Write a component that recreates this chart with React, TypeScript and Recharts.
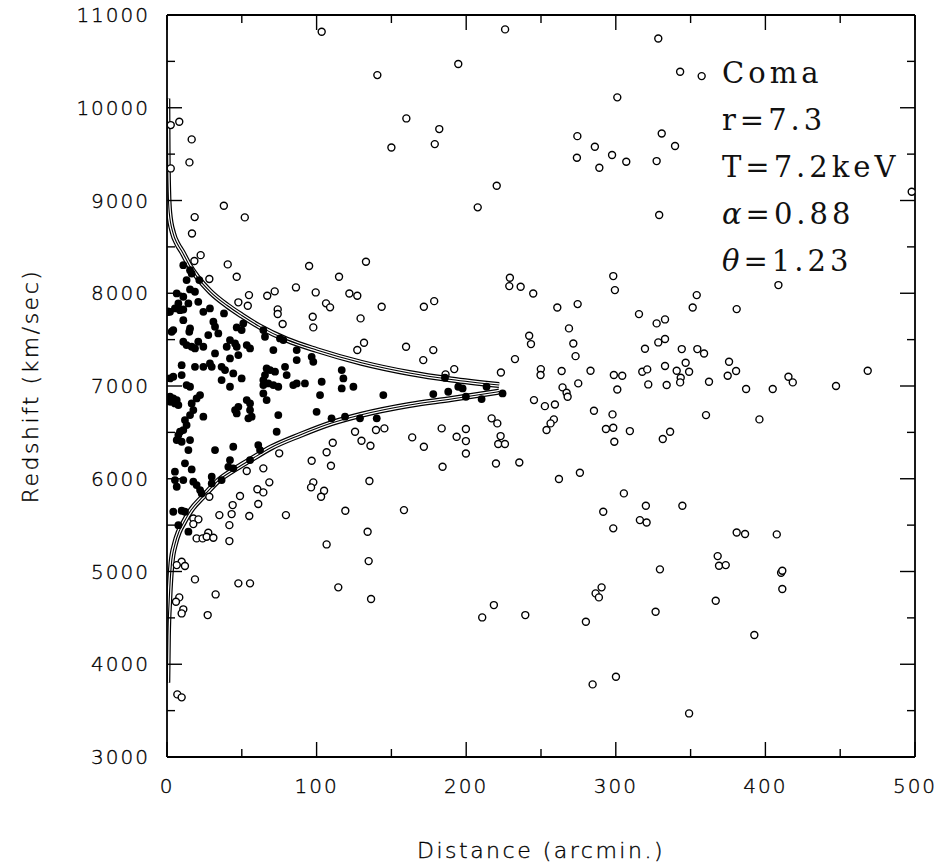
import { ComposedChart, Scatter, Line, XAxis, YAxis, Label } from 'recharts'

// distance (arcmin), redshift (km/s) pairs
const MEMBERS: [number, number][] = [
  [10.9, 8303], [15.4, 8249], [16.5, 8213], [13.1, 8142], [21.6, 8142], [6.5, 7998], [15.4, 8041],
  [18.7, 8016], [10.9, 7962], [20.9, 7908], [14.3, 7890], [7.6, 7890], [5.3, 7836], [2, 7800],
  [8.7, 7818], [10.9, 7825], [24.3, 7800], [28.7, 7836], [38.1, 7782], [10.9, 7710], [15.4, 7621],
  [14.9, 7585], [31, 7693], [32.1, 7639], [34.3, 7567], [27.6, 7549], [4.2, 7603], [3.1, 7585],
  [46.6, 7631], [51, 7675], [49.9, 7603], [42.1, 7495], [45.5, 7459], [46.6, 7423], [53.3, 7441],
  [55.5, 7405], [39.9, 7423], [10.9, 7477], [13.1, 7441], [16.5, 7423], [20.9, 7477], [24.3, 7423],
  [18.7, 7405], [64.4, 7603], [65.5, 7531], [75.5, 7513], [77.8, 7495], [71.1, 7387], [32.1, 7351],
  [42.1, 7297], [47.7, 7333], [86.7, 7387], [86.7, 7279], [96.7, 7315], [97.8, 7261], [9.8, 7225],
  [18.7, 7207], [24.3, 7207], [28.7, 7243], [29.9, 7207], [36.5, 7207], [38.8, 7172], [44.3, 7136],
  [49.9, 7082], [66.6, 7189], [68.9, 7172], [72.2, 7154], [65.5, 7118], [64.4, 7064], [78.9, 7207],
  [80, 7118], [4.2, 7100], [9.8, 7118], [2, 7082], [36.5, 7064], [42.1, 6992], [13.1, 7010],
  [15.4, 6992], [67.7, 7028], [71.1, 7010], [74.4, 6992], [64.4, 7010], [64.4, 6920], [66.6, 6848],
  [84.4, 7010], [86.7, 7028], [92.2, 7028], [103.4, 7046], [116.8, 7172], [117.9, 7082], [116.8, 6974],
  [124.6, 6992], [102.3, 6902], [144.6, 6902], [2, 6884], [4.2, 6866], [6.5, 6848], [5.3, 6812],
  [2, 6830], [7.6, 6794], [22.1, 6902], [19.8, 6866], [16.5, 6812], [17.6, 6740], [15.4, 6686],
  [12, 6633], [13.1, 6579], [10.9, 6525], [8.7, 6507], [7.6, 6471], [6.5, 6417], [9.8, 6399],
  [15.4, 6417], [47.7, 6776], [45.5, 6740], [46.6, 6704], [53.3, 6848], [55.5, 6812], [55.5, 6740],
  [56.6, 6669], [54.4, 6651], [24.3, 6669], [74.4, 6686], [100, 6722], [110, 6651], [119, 6669],
  [129, 6651], [140.2, 6651], [73.3, 6507], [44.3, 6345], [32.1, 6309], [14.3, 6309], [61, 6363],
  [62.2, 6309], [55.5, 6201], [42.1, 6201], [41, 6129], [44.3, 6112], [12, 6166], [5.3, 6076],
  [16.5, 6101], [10.9, 5986], [17.6, 5968], [19.8, 5932], [22.1, 5878], [23.2, 5842], [6.5, 5914],
  [5.3, 5986], [29.9, 6022], [29.9, 5950], [36.5, 5986], [4.2, 5644], [9.8, 5655], [12, 5644],
  [7.6, 5500], [14.3, 5429], [185.8, 7089], [188, 6938], [178, 6913], [194.7, 6992], [197.6, 6974],
  [199.8, 6884], [210.3, 6859], [213.6, 6992], [224.3, 6920],
]

const INTERLOPERS: [number, number][] = [
  [103.4, 10819], [140.6, 10352], [160, 9885], [150, 9572], [8.2, 9849], [2.5, 9813], [16.5, 9659],
  [15, 9411], [2.5, 9346], [38, 8943], [18.5, 8821], [52, 8818], [16.7, 8645], [22.5, 8411],
  [226, 10845], [194.7, 10471], [328.4, 10747], [301, 10112], [182, 9770], [179, 9608], [274.3, 9694],
  [286, 9579], [274, 9461], [297.5, 9490], [289, 9353], [307, 9418], [327.3, 9425], [220.4, 9159],
  [207.7, 8926], [329, 8843], [343, 10388], [357.4, 10341], [330.7, 9723], [339.6, 9587], [497.8, 9094],
  [18.3, 8347], [40.6, 8311], [95, 8293], [133, 8340], [28.3, 8153], [46.6, 8178], [115, 8178],
  [54.8, 7980], [47.7, 7902], [54, 7865], [67, 7973], [72, 8020], [86.2, 8063], [99.4, 8009],
  [121.9, 7998], [127.2, 7973], [74, 7826], [74, 7776], [106.3, 7891], [109, 7848], [143.5, 7855],
  [97.4, 7746], [77.3, 7668], [97.8, 7632], [129.4, 7729], [159.8, 7423], [131.7, 7466], [127.2, 7388],
  [145.3, 6543], [139.7, 6525], [125.7, 6507], [130, 6410], [136, 6356], [110.8, 6388], [106.7, 6285],
  [96.7, 6194], [109.6, 6140], [75, 6274], [64.4, 6112], [53.3, 6083], [68.4, 5961], [60.4, 5886],
  [64.4, 5853], [48.8, 5814], [97.8, 5961], [96.3, 5907], [105, 5871], [103, 5806], [135.3, 5975],
  [28.3, 5806], [0.7, 7800],
  [17.6, 5572], [21, 5562], [17.6, 5511], [43.9, 5716], [61, 5727], [35, 5608], [43.2, 5619],
  [55, 5598], [79.5, 5608], [41.7, 5500], [27.6, 5418], [19.8, 5357], [23.8, 5357], [26.5, 5375],
  [31, 5364], [41.7, 5328], [106.7, 5292], [119.2, 5655], [158.4, 5662], [134.1, 5429], [134.8, 5112],
  [114.5, 4829], [136.4, 4703], [9.8, 5105], [6.5, 5069], [12, 5059], [18.7, 4915], [47.7, 4872],
  [55.5, 4872], [32.5, 4753], [8.2, 4721], [6, 4674], [10.9, 4592], [9.8, 4548], [27.2, 4530],
  [6.9, 3675], [9.8, 3643],
  [291.6, 5644], [320.1, 5709], [316.1, 5554], [320.6, 5529], [298.3, 5465], [329.5, 5023],
  [290.5, 4829], [286.5, 4764], [288.7, 4721], [218.5, 4638], [210.7, 4505], [239.5, 4530],
  [280, 4459], [326.6, 4566], [300.1, 3866], [284.5, 3783],
  [344.5, 5709], [380.8, 5421], [386.4, 5404], [407.6, 5400], [368.1, 5166], [369, 5062],
  [373.5, 5069], [410.5, 4987], [411.3, 5008], [411.3, 4811], [366.8, 4685], [392.6, 4315], [349, 3470],
  [229.2, 8167], [228.8, 8077], [236.4, 8070], [244.8, 7998], [298.3, 8185], [299.4, 8034],
  [171.7, 7854], [178.6, 7915], [260.9, 7847], [274.5, 7883], [315.5, 7775], [327.3, 7675],
  [268.7, 7621], [242.1, 7542], [243.3, 7452], [271.6, 7459], [273.1, 7322], [328.4, 7470],
  [319.5, 7401], [178, 7387], [171.3, 7279], [232.6, 7290], [192, 7182], [223.2, 7146], [249.9, 7182],
  [249.7, 7118], [263.8, 7161], [283.1, 7164], [298.7, 7118], [304.3, 7111], [317.7, 7154], [321, 7179],
  [321.7, 7017], [301, 6963], [274.9, 7028], [264.4, 6985], [267.1, 6927], [267.8, 6884], [186.2, 7125],
  [245.3, 6848], [252.6, 6783], [259.3, 6801], [285.4, 6733], [297.8, 6694], [258.6, 6640],
  [256.4, 6597], [253.7, 6525], [293.4, 6536], [298.3, 6550], [309.4, 6514], [299, 6399], [217, 6651],
  [220.8, 6597], [223, 6460], [221.4, 6374], [225.9, 6374], [183.6, 6543], [199.8, 6536],
  [163.9, 6446], [193.6, 6453], [199.8, 6406], [171.7, 6345], [199.8, 6273], [184.2, 6130],
  [219.9, 6165], [235.5, 6176], [276, 6065], [262, 5997], [305.4, 5842],
  [408.7, 8088], [354.1, 7980], [351.4, 7847], [380.8, 7829], [332.9, 7718], [332.9, 7506],
  [344.1, 7398], [354.5, 7398], [359, 7351], [346.7, 7251], [332.9, 7215], [340.7, 7164], [349, 7154],
  [375.7, 7261], [380.4, 7161], [374.8, 7110], [343.4, 7089], [343, 7039], [334, 7010], [362.3, 7046],
  [387.1, 6967], [404.9, 6967], [415.4, 7100], [418.3, 7039], [447.2, 7000], [468.4, 7164],
  [360.3, 6686], [396, 6640], [336.3, 6507], [331.4, 6428],
]

// caustic envelope
const UPPER_CAUSTIC: [number, number][] = [
  [0.2, 10100], [0.4, 9500], [0.8, 9100], [1.5, 8870], [4, 8650], [7, 8530], [10, 8450], [15, 8300],
  [20, 8180], [29, 8016], [40, 7870], [50, 7760], [62, 7640], [80, 7500], [100, 7388], [130, 7250],
  [162, 7140], [190, 7070], [222, 7010],
]
const LOWER_CAUSTIC: [number, number][] = [
  [0.2, 3800], [0.6, 4300], [1.5, 4700], [3, 5090], [5.4, 5300], [8, 5430], [11, 5523], [16, 5660],
  [24, 5806], [35, 5990], [45, 6100], [55.5, 6202], [70, 6340], [89, 6472], [110, 6600], [130, 6690],
  [162, 6795], [190, 6860], [222, 6940],
]

const X_TICKS = [0, 50, 100, 150, 200, 250, 300, 350, 400, 450, 500]
const Y_TICKS = [3000, 3500, 4000, 4500, 5000, 5500, 6000, 6500, 7000, 7500, 8000, 8500, 9000, 9500, 10000, 10500, 11000]

const toPts = (arr: [number, number][]) => arr.map(([r, v]) => ({ r, v }))

const FONT = '"DejaVu Sans", sans-serif'
const MAJOR = 15
const MINOR = 8

const labelText = {
  fontFamily: FONT,
  fontWeight: 200,
  fill: '#000',
  stroke: '#000',
  strokeWidth: 0.35,
} as const

const BottomTick = ({ x, y, payload }: any) => {
  const major = payload.value % 100 === 0
  return (
    <g>
      <line x1={x} x2={x} y1={y} y2={y - (major ? MAJOR : MINOR)} stroke="#000" strokeWidth={1.4} />
      {major && (
        <text x={x} y={y + 29} textAnchor="middle" dominantBaseline="central" fontSize={20} letterSpacing={2} {...labelText}>
          {payload.value}
        </text>
      )}
    </g>
  )
}

const TopTick = ({ x, y, payload }: any) => {
  const major = payload.value % 100 === 0
  return <line x1={x} x2={x} y1={y} y2={y + (major ? MAJOR : MINOR)} stroke="#000" strokeWidth={1.4} />
}

const LeftTick = ({ x, y, payload }: any) => {
  const major = payload.value % 1000 === 0
  return (
    <g>
      <line x1={x} x2={x + (major ? MAJOR : MINOR)} y1={y} y2={y} stroke="#000" strokeWidth={1.4} />
      {major && (
        <text x={x - 17} y={y} textAnchor="end" dominantBaseline="central" fontSize={20} letterSpacing={2} {...labelText}>
          {payload.value}
        </text>
      )}
    </g>
  )
}

const RightTick = ({ x, y, payload }: any) => {
  const major = payload.value % 1000 === 0
  return <line x1={x} x2={x - (major ? MAJOR : MINOR)} y1={y} y2={y} stroke="#000" strokeWidth={1.4} />
}

const OpenDot = (p: any) => (
  <circle cx={p.cx} cy={p.cy} r={3.5} fill="#fff" stroke="#000" strokeWidth={1.4} />
)
const FilledDot = (p: any) => <circle cx={p.cx} cy={p.cy} r={3.9} fill="#000" />

const YTitle = ({ viewBox }: any) => {
  const cx = viewBox.x + 30
  const cy = viewBox.y + viewBox.height / 2
  return (
    <text x={cx} y={cy} transform={`rotate(-90 ${cx} ${cy})`} textAnchor="middle" dominantBaseline="central"
      fontSize={22} letterSpacing={2.5} {...labelText}>
      Redshift (km/sec)
    </text>
  )
}

const XTitle = ({ viewBox }: any) => (
  <text x={viewBox.x + viewBox.width / 2} y={viewBox.y + 93} textAnchor="middle" dominantBaseline="central"
    fontSize={22} letterSpacing={2.5} {...labelText}>
    Distance (arcmin.)
  </text>
)

const axisLine = { stroke: '#000', strokeWidth: 1.8 }

export default function App() {
  const upper = toPts(UPPER_CAUSTIC)
  const lower = toPts(LOWER_CAUSTIC)
  const caustic = (data: { r: number; v: number }[], key: string) => [
    <Line key={key + 'a'} xAxisId="b" yAxisId="l" data={data} dataKey="v" type="monotone" stroke="#000" strokeWidth={6} dot={false} isAnimationActive={false} />,
    <Line key={key + 'b'} xAxisId="b" yAxisId="l" data={data} dataKey="v" type="monotone" stroke="#fff" strokeWidth={3.6} dot={false} isAnimationActive={false} />,
    <Line key={key + 'c'} xAxisId="b" yAxisId="l" data={data} dataKey="v" type="monotone" stroke="#000" strokeWidth={1.1} dot={false} isAnimationActive={false} />,
  ]

  return (
    <div style={{ position: 'absolute', left: 0, top: 0, width: 943, height: 865, background: '#fff' }}>
      <ComposedChart width={943} height={865} margin={{ top: 0, right: 0, bottom: 0, left: 0 }}>
        <XAxis xAxisId="b" dataKey="r" type="number" domain={[0, 500]} ticks={X_TICKS} interval={0}
          allowDataOverflow orientation="bottom" height={108} tickSize={0} tickMargin={0}
          tickLine={false} axisLine={axisLine} tick={<BottomTick />}>
          <Label content={<XTitle />} />
        </XAxis>
        <XAxis xAxisId="t" dataKey="r" type="number" domain={[0, 500]} ticks={X_TICKS} interval={0}
          allowDataOverflow orientation="top" height={15} tickSize={0} tickMargin={0}
          tickLine={false} axisLine={axisLine} tick={<TopTick />} />
        <YAxis yAxisId="l" dataKey="v" type="number" domain={[3000, 11000]} ticks={Y_TICKS} interval={0}
          allowDataOverflow orientation="left" width={167} tickSize={0} tickMargin={0}
          tickLine={false} axisLine={axisLine} tick={<LeftTick />}>
          <Label content={<YTitle />} />
        </YAxis>
        <YAxis yAxisId="rt" dataKey="v" type="number" domain={[3000, 11000]} ticks={Y_TICKS} interval={0}
          allowDataOverflow orientation="right" width={28} tickSize={0} tickMargin={0}
          tickLine={false} axisLine={axisLine} tick={<RightTick />} />

        {caustic(upper, 'up')}
        {caustic(lower, 'lo')}

        <Scatter xAxisId="b" yAxisId="l" data={toPts(INTERLOPERS)} shape={<OpenDot />} isAnimationActive={false} />
        <Scatter xAxisId="b" yAxisId="l" data={toPts(MEMBERS)} shape={<FilledDot />} isAnimationActive={false} />
      </ComposedChart>

      <div
        style={{
          position: 'absolute',
          left: 722,
          top: 50,
          fontFamily: '"DejaVu Serif", serif',
          fontSize: 29,
          letterSpacing: 4,
          lineHeight: '47px',
          color: '#111',
          whiteSpace: 'nowrap',
        }}
      >
        <div>Coma</div>
        <div>r=7.3</div>
        <div>T=7.2keV</div>
        <div><i>α</i>=0.88</div>
        <div><i>θ</i>=1.23</div>
      </div>
    </div>
  )
}
